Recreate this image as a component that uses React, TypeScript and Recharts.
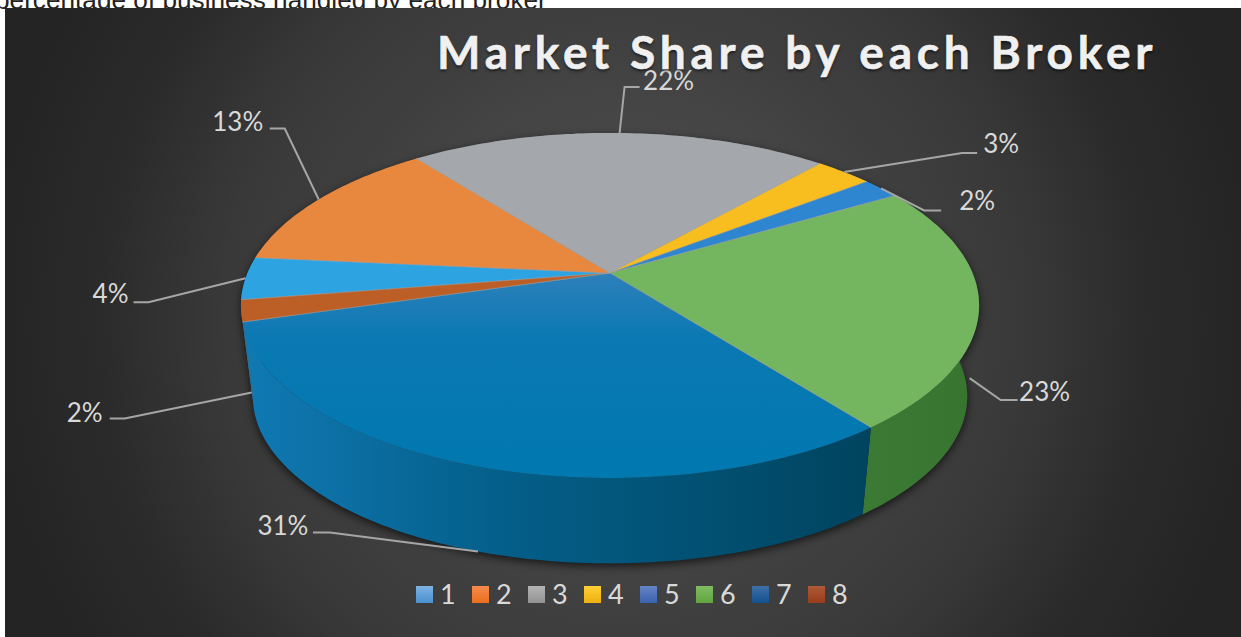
import { Legend, Pie, PieChart } from 'recharts'

const CATEGORIES = ['1', '2', '3', '4', '5', '6', '7', '8']
const SHARES = [4, 13, 22, 3, 2, 23, 31, 2]

const FACE_FILLS = ['#2ea3e2', '#e8883f', '#a4a8ad', '#f8bd1e', '#2e86d0', '#74b55f', 'url(#faceBlue)', '#bb5f27']
const WALL_FILLS = ['#1c6c98', '#9a5526', '#6b6e72', '#a67f14', '#1e598a', 'url(#wallGreen)', 'url(#wallBlue)', '#2f6f92']
const KEY_COLORS: [string, string][] = [
  ['#7cb3e3', '#4a90cf'],
  ['#f58a4a', '#ea6f1e'],
  ['#b4b4b4', '#929292'],
  ['#ffcf33', '#eeb010'],
  ['#6684c8', '#3a62ae'],
  ['#80bb62', '#60a53e'],
  ['#3f6ea8', '#12528f'],
  ['#ad5a36', '#993d1c'],
]

// leader line and text, relative to the point the leader starts from
// wall = how far down the side wall that point sits (0 = rim, 1 = bottom edge)
const LEADERS = [
  { wall: 0, elbow: [-97, 24], stub: [-112, 24], text: [-135, 15] },
  { wall: 0, elbow: [-34, -71], stub: [-49, -71], text: [-81, -78] },
  { wall: 0, elbow: [5, -46], stub: [20, -46], text: [49, -53] },
  { wall: 0, elbow: [118, -19], stub: [133, -19], text: [157, -29] },
  { wall: 0, elbow: [43, 22], stub: [60, 22], text: [96, 12] },
  { wall: 0.8, elbow: [31, 22], stub: [48, 22], text: [75, 13] },
  { wall: 1, elbow: [-148, -19], stub: [-165, -19], text: [-195, -27] },
  { wall: 0.9, elbow: [-127, 26], stub: [-142, 26], text: [-167, 19] },
]

const PIE_CX = 610
const PIE_CY = 273
const PIE_R = 362.5
const START = 189
const SQUASH = 0.459
const TILT = 0.188
const FLOOR_SCALE = 0.968
const FLOOR_DROP = 92

const tableData = CATEGORIES.map((name, i) => ({
  name,
  value: SHARES[i],
  fill: `url(#key${i})`,
}))

// circle seen at an angle: the far side shrinks, so the hub is not the middle of the ellipse
function project(cx: number, cy: number, r: number, deg: number, floor: boolean) {
  const x = Math.cos((deg * Math.PI) / 180)
  const y = Math.sin((deg * Math.PI) / 180)
  const w = 1 + TILT * y
  const scale = floor ? FLOOR_SCALE : 1
  return {
    x: cx + (scale * r * x) / w,
    y: cy - (scale * r * SQUASH * y) / w + (floor ? FLOOR_DROP : 0),
  }
}

function arc(cx: number, cy: number, r: number, from: number, to: number, floor: boolean) {
  const steps = Math.max(2, Math.ceil(Math.abs(to - from)))
  const pts = []
  for (let i = 0; i <= steps; i++) {
    pts.push(project(cx, cy, r, from + ((to - from) * i) / steps, floor))
  }
  return pts
}

const toPath = (pts: { x: number; y: number }[]) =>
  'M' + pts.map((p) => `${p.x.toFixed(1)},${p.y.toFixed(1)}`).join('L') + 'Z'

function indexOfSlice(props: any) {
  return CATEGORIES.indexOf(String(props.name ?? props.payload?.name))
}

function FaceShape(props: any) {
  const { cx, cy, outerRadius, startAngle, endAngle } = props
  const i = indexOfSlice(props)
  const edge = arc(cx, cy, outerRadius, startAngle, endAngle, false)
  const first = edge[0]
  const last = edge[edge.length - 1]
  return (
    <g>
      <path d={toPath([{ x: cx, y: cy }, ...edge])} fill={FACE_FILLS[i]} />
      <path
        d={`M${first.x},${first.y}L${cx},${cy}L${last.x},${last.y}`}
        fill="none"
        stroke="#a8a8a8"
        strokeOpacity={0.45}
      />
    </g>
  )
}

function WallShape(props: any) {
  const { cx, cy, outerRadius, startAngle, endAngle } = props
  const i = indexOfSlice(props)
  const top = arc(cx, cy, outerRadius, startAngle, endAngle, false)
  const bottom = arc(cx, cy, outerRadius, endAngle, startAngle, true)
  return <path d={toPath([...top, ...bottom])} fill={WALL_FILLS[i]} />
}

function leaderLabel(props: any) {
  const { cx, cy, outerRadius, midAngle, index, value } = props
  const l = LEADERS[index]
  const rim = project(cx, cy, outerRadius, midAngle, false)
  const base = project(cx, cy, outerRadius, midAngle, true)
  const a = { x: rim.x + (base.x - rim.x) * l.wall, y: rim.y + (base.y - rim.y) * l.wall }
  return (
    <g key={index}>
      <polyline
        points={`${a.x},${a.y} ${a.x + l.elbow[0]},${a.y + l.elbow[1]} ${a.x + l.stub[0]},${a.y + l.stub[1]}`}
        fill="none"
        stroke="#a6a6a6"
        strokeWidth={2}
      />
      <text
        x={a.x + l.text[0]}
        y={a.y + l.text[1]}
        textAnchor="middle"
        dominantBaseline="central"
        fill="#d9d9d9"
        fontFamily="Lato"
        fontSize={26}
      >
        {value}%
      </text>
    </g>
  )
}

export default function App() {
  return (
    <div style={{ position: 'absolute', left: 0, top: 0, width: 1241, height: 637, background: '#fff', overflow: 'hidden' }}>
      <style>{`.pie-walls { filter: drop-shadow(0 3px 4px rgba(0,0,0,0.65)); }`}</style>
      <div
        style={{
          position: 'absolute',
          left: -5,
          top: -15,
          fontFamily: 'Liberation Sans',
          fontSize: 26.2,
          lineHeight: '30px',
          whiteSpace: 'nowrap',
          color: '#222',
        }}
      >
        percentage of business handled by each broker
      </div>
      <div
        style={{
          position: 'absolute',
          left: 5,
          top: 8,
          width: 1236,
          height: 629,
          background:
            'radial-gradient(circle 640px at 618px 314px, #565656 0px, #484848 180px, #3f3f3f 300px, #393939 400px, #2b2b2b 520px, #262626 600px, #242424 640px)',
        }}
      />
      <PieChart width={1241} height={637} margin={{ top: 0, right: 0, bottom: 0, left: 0 }} style={{ position: 'absolute', left: 0, top: 0 }}>
        <defs>
          {KEY_COLORS.map(([from, to], i) => (
            <linearGradient key={i} id={`key${i}`} x1="0" y1="0" x2="0" y2="1">
              <stop offset="0" stopColor={from} />
              <stop offset="1" stopColor={to} />
            </linearGradient>
          ))}
          <linearGradient id="faceBlue" gradientUnits="userSpaceOnUse" x1="0" y1="275" x2="0" y2="480">
            <stop offset="0" stopColor="#2d80ba" />
            <stop offset="0.3" stopColor="#0b79b3" />
            <stop offset="1" stopColor="#0078b0" />
          </linearGradient>
          <linearGradient id="wallBlue" gradientUnits="userSpaceOnUse" x1="250" y1="0" x2="870" y2="0">
            <stop offset="0" stopColor="#1079b2" />
            <stop offset="0.4" stopColor="#045f8a" />
            <stop offset="1" stopColor="#00445f" />
          </linearGradient>
          <linearGradient id="wallGreen" gradientUnits="userSpaceOnUse" x1="865" y1="0" x2="980" y2="0">
            <stop offset="0" stopColor="#3b7a35" />
            <stop offset="1" stopColor="#37752f" />
          </linearGradient>
        </defs>
        <Pie
          className="pie-walls"
          data={tableData}
          dataKey="value"
          nameKey="name"
          cx={PIE_CX}
          cy={PIE_CY}
          innerRadius={0}
          outerRadius={PIE_R}
          startAngle={START}
          endAngle={START - 360}
          legendType="none"
          shape={WallShape}
          isAnimationActive={false}
        />
        <Pie
          data={tableData}
          dataKey="value"
          nameKey="name"
          cx={PIE_CX}
          cy={PIE_CY}
          innerRadius={0}
          outerRadius={PIE_R}
          startAngle={START}
          endAngle={START - 360}
          legendType="square"
          shape={FaceShape}
          label={leaderLabel}
          labelLine={false}
          isAnimationActive={false}
        />
        <Legend
          align="left"
          verticalAlign="bottom"
          iconType="square"
          iconSize={17}
          wrapperStyle={{ left: 416, top: 579, width: 470, bottom: 'auto' }}
          formatter={(v: string) => (
            <span style={{ display: 'inline-block', verticalAlign: 'middle', width: 25, color: '#d9d9d9', fontFamily: 'Lato', fontSize: 27, lineHeight: '30px', paddingLeft: 3, boxSizing: 'border-box' }}>{v}</span>
          )}
        />
      </PieChart>
      <div
        style={{
          position: 'absolute',
          left: 437,
          top: 24,
          fontFamily: 'Lato',
          fontWeight: 700,
          fontSize: 46,
          lineHeight: '56px',
          letterSpacing: 4.8,
          whiteSpace: 'nowrap',
          color: '#f0f0f0',
          WebkitTextStroke: '0.6px #f0f0f0',
          textShadow: '0 2px 3px rgba(0,0,0,0.6)',
        }}
      >
        Market Share by each Broker
      </div>
    </div>
  )
}
